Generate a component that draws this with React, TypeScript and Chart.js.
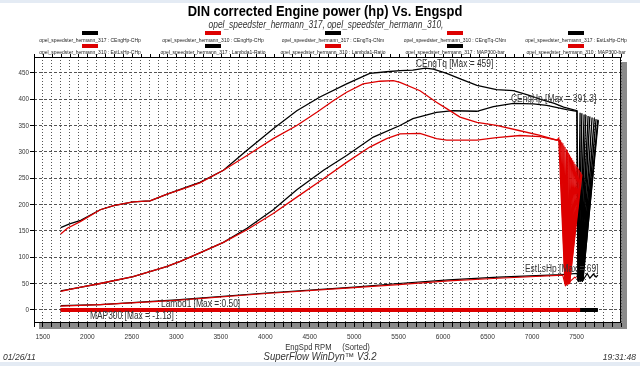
import React, { useEffect, useRef } from 'react';
import { Chart, registerables } from 'chart.js';

Chart.register(...registerables);

// ---------- tick labels ----------
const xTickLabels = ['1500', '2000', '2500', '3000', '3500', '4000', '4500', '5000', '5500', '6000', '6500', '7000', '7500'];
const yTickLabels = ['0', '50', '100', '150', '200', '250', '300', '350', '400', '450'];

// ---------- series (x = EngSpd rpm, y = value) ----------
// 317 CEngHp (black)
const hp317Rpm = [1700, 1900, 2145, 2515, 2890, 3045, 3265, 3530, 3795, 4090, 4355, 4655, 4915, 5215, 5515, 5660, 5925, 6115, 6380, 6565, 6790, 7015, 7165, 7390, 7505,
  7518, 7560, 7530, 7605, 7540, 7650, 7550, 7700, 7560, 7740, 7572];
const hp317Val = [36, 42, 50, 63, 82, 92, 108, 128, 155, 190, 228, 265, 293, 328, 350, 363, 375, 378, 377, 386, 392, 391, 388, 380, 377,
  54, 373, 56, 370, 53, 367, 55, 364, 54, 361, 55];
// 310 CEngHp (red)
const hp310Rpm = [1700, 1900, 2145, 2515, 2890, 3045, 3265, 3530, 3795, 4090, 4355, 4655, 4915, 5175, 5365, 5515, 5740, 5925, 6040, 6380, 6600, 6865, 7090, 7280,
  7310, 7372, 7333, 7380, 7357, 7386, 7382, 7392, 7407, 7398, 7432, 7404, 7457, 7409, 7482, 7413, 7507, 7416, 7532, 7419, 7552, 7421];
const hp310Val = [35, 42, 50, 63, 82, 92, 108, 128, 152, 183, 214, 249, 280, 309, 325, 334, 335, 325, 322, 322, 327, 331, 329, 322,
  322, 49, 318, 52, 312, 48, 305, 51, 298, 50, 291, 53, 284, 49, 277, 52, 271, 50, 265, 51, 259, 49];
// 317 CEngTq (black)
const tq317Rpm = [1700, 1800, 1925, 2145, 2295, 2515, 2705, 2890, 3115, 3265, 3530, 3795, 4090, 4355, 4615, 4915, 5175, 5365, 5515, 5660, 5800, 5890, 6040, 6200, 6380, 6600, 6790, 6950, 7090, 7250, 7355, 7505,
  7515, 7540, 7525, 7585, 7535, 7630, 7545, 7675, 7555, 7720, 7565, 7745, 7570];
const tq317Val = [156, 163, 170, 190, 198, 205, 207, 219, 233, 242, 265, 303, 344, 378, 404, 429, 449, 452, 454, 455, 459, 457, 449, 438, 426, 418, 416, 408, 400, 392, 385, 378,
  55, 374, 53, 371, 56, 368, 54, 365, 55, 362, 53, 360, 56];
// 310 CEngTq (red)
const tq310Rpm = [1700, 1775, 1925, 2145, 2295, 2515, 2705, 2890, 3115, 3265, 3530, 3795, 4090, 4355, 4580, 4765, 4915, 5100, 5290, 5440, 5515, 5740, 5925, 6040, 6190, 6380, 6600, 6865, 7090, 7280,
  7300, 7370, 7320, 7378, 7345, 7384, 7370, 7390, 7395, 7396, 7420, 7402, 7445, 7407, 7470, 7411, 7495, 7414, 7520, 7417, 7545, 7420, 7560, 7422];
const tq310Val = [144, 155, 168, 190, 198, 205, 207, 219, 232, 241, 265, 293, 325, 350, 375, 397, 413, 429, 434, 435, 432, 416, 394, 382, 366, 356, 350, 340, 331, 322,
  326, 50, 322, 48, 316, 52, 309, 47, 302, 51, 295, 49, 288, 53, 281, 48, 274, 52, 268, 50, 262, 49, 257, 51];
// 317 EstLsHp (black)
const est317Rpm = [1700, 2145, 3000, 4010, 5000, 5500, 6060, 6620, 7330, 7505, 7520, 7550, 7580, 7620, 7650, 7690, 7720, 7740];
const est317Val = [8, 10, 19, 32, 43, 50, 57, 62, 67, 69, 56, 68, 58, 69, 60, 68, 62, 66];
// 310 EstLsHp (red)
const est310Rpm = [1700, 2145, 3000, 4010, 5000, 5500, 6060, 6620, 7345, 7375, 7480, 7500];
const est310Val = [7, 10, 18, 31, 42, 48, 55, 60, 66, 46, 62, 60];
// 317 / 310 Lambda1
const lam317Rpm = [1700, 3000, 4500, 6000, 7505, 7740];
const lam317Val = [0.45, 0.47, 0.5, 0.48, 0.46, 0.45];
const lam310Rpm = [1700, 3000, 4500, 6000, 7540];
const lam310Val = [0.44, 0.46, 0.48, 0.47, 0.45];
// 317 / 310 MAP300
const map317Rpm = [1700, 3000, 4500, 6000, 7505, 7740];
const map317Val = [-1.2, -1.18, -1.15, -1.13, -1.16, -1.2];
const map310Rpm = [1700, 3000, 4500, 6000, 7540];
const map310Val = [-1.22, -1.19, -1.16, -1.14, -1.18];

// ---------- legend / annotation texts ----------
const legendLabels = [
  'opel_speedster_hermann_317 : CEngHp-CHp', 'opel_speedster_hermann_310 : CEngHp-CHp', 'opel_speedster_hermann_317 : CEngTq-CNm',
  'opel_speedster_hermann_310 : CEngTq-CNm', 'opel_speedster_hermann_317 : EstLsHp-CHp', 'opel_speedster_hermann_310 : EstLsHp-CHp',
  'opel_speedster_hermann_317 : Lambda1-Ratio', 'opel_speedster_hermann_310 : Lambda1-Ratio', 'opel_speedster_hermann_317 : MAP300-bar',
  'opel_speedster_hermann_310 : MAP300-bar',
];
const legendColors = ['#000000', '#dd0000', '#000000', '#dd0000', '#000000', '#dd0000', '#000000', '#dd0000', '#000000', '#dd0000'];

const RED = '#dd0000';
const BLACK = '#000000';

const pts = (xs: number[], ys: number[]) => xs.map((x, i) => ({ x, y: ys[i] }));

function drawText(ctx: CanvasRenderingContext2D, text: string, x: number, y: number, font: string, align: CanvasTextAlign, sx: number, color: string) {
  ctx.save();
  ctx.translate(x, y);
  ctx.scale(sx, 1);
  ctx.font = font;
  ctx.fillStyle = color;
  ctx.textAlign = align;
  ctx.textBaseline = 'middle';
  ctx.fillText(text, 0, 0);
  ctx.restore();
}

const FONT = "'Liberation Sans', Arial, sans-serif";

const decorPlugin = {
  id: 'decor',
  beforeDraw(chart: any) {
    const { ctx, chartArea: a, width, height } = chart;
    ctx.save();
    ctx.fillStyle = '#ffffff';
    ctx.fillRect(0, 0, width, height);
    ctx.fillStyle = '#e4ebf4';
    ctx.fillRect(0, 0, width, 3);
    ctx.fillRect(0, height - 4, width, 4);
    // drop shadow
    ctx.fillStyle = '#8a8a8a';
    ctx.fillRect(a.left + 5, a.top + 5, a.right - a.left + 1, a.bottom - a.top + 1);
    ctx.fillStyle = '#ffffff';
    ctx.fillRect(a.left, a.top, a.right - a.left, a.bottom - a.top);
    ctx.restore();
  },
  afterDraw(chart: any) {
    const { ctx, chartArea: a } = chart;
    const xs = chart.scales.x;
    const ys = chart.scales.y;
    ctx.save();
    // frame
    ctx.strokeStyle = '#000';
    ctx.lineWidth = 1;
    ctx.strokeRect(a.left + 0.5, a.top + 0.5, a.right - a.left - 1, a.bottom - a.top - 1);
    // top tick marks
    ctx.beginPath();
    xs.ticks.forEach((t: any) => {
      const px = Math.round(xs.getPixelForValue(t.value)) + 0.5;
      ctx.moveTo(px, a.top);
      ctx.lineTo(px, a.top - 3);
    });
    ctx.stroke();
    ctx.restore();

    // tick labels
    xTickLabels.forEach((l) => {
      drawText(ctx, l, xs.getPixelForValue(Number(l)), 337, `8px ${FONT}`, 'center', 0.82, '#333');
    });
    yTickLabels.forEach((l) => {
      drawText(ctx, l, 29, ys.getPixelForValue(Number(l)), `8px ${FONT}`, 'right', 0.78, '#333');
    });
    // axis title
    drawText(ctx, 'EngSpd RPM     (Sorted)', (a.left + a.right) / 2, 348, `9px ${FONT}`, 'center', 0.85, '#333');

    // titles
    drawText(ctx, 'DIN corrected Engine power (hp) Vs. Engspd', 325, 12, `bold 15px ${FONT}`, 'center', 0.86, '#000');
    drawText(ctx, 'opel_speedster_hermann_317, opel_speedster_hermann_310,', 326, 25, `italic 10px ${FONT}`, 'center', 0.84, '#333');

    // legend
    const cols = [90, 213, 333, 455, 576];
    legendLabels.forEach((lab, i) => {
      const row = Math.floor(i / 5);
      const col = i % 5;
      const cx = cols[col];
      const sy = row === 0 ? 31 : 44;
      ctx.fillStyle = legendColors[i];
      ctx.fillRect(cx - 8, sy, 16, 4);
      drawText(ctx, lab, cx, row === 0 ? 40 : 52, `5.5px ${FONT}`, 'center', 0.9, '#222');
    });

    // annotations inside plot
    const af = `10px ${FONT}`;
    drawText(ctx, 'CEngTq [Max = 459]', 416, 64, af, 'left', 0.84, '#333');
    drawText(ctx, 'CEngHp [Max = 391.3]', 511, 99, af, 'left', 0.84, '#333');
    drawText(ctx, 'EstLsHp [Max = 69]', 525, 269, af, 'left', 0.84, '#333');
    drawText(ctx, 'Lambd1 [Max = 0.50]', 161, 304, af, 'left', 0.84, '#333');
    drawText(ctx, 'MAP300 [Max = -1.13]', 90, 316, af, 'left', 0.84, '#333');

    // footer
    drawText(ctx, '01/26/11', 3, 357, `italic 9px ${FONT}`, 'left', 0.95, '#333');
    drawText(ctx, 'SuperFlow WinDyn\u2122 V3.2', 320, 357, `italic 10px ${FONT}`, 'center', 0.95, '#333');
    drawText(ctx, '19:31:48', 636, 357, `italic 9px ${FONT}`, 'right', 0.95, '#333');
  },
};

export default function App() {
  const ref = useRef<HTMLCanvasElement | null>(null);
  useEffect(() => {
    if (!ref.current) return;
    const ds = (label: string, xs: number[], ys: number[], color: string, w: number) => ({
      label,
      data: pts(xs, ys),
      borderColor: color,
      backgroundColor: color,
      borderWidth: w,
      pointRadius: 0,
      fill: false,
      tension: 0,
    });
    const chart = new Chart(ref.current, {
      type: 'line',
      data: {
        datasets: [
          ds('310 MAP300', map310Rpm, map310Val, RED, 3),
          ds('310 Lambda1', lam310Rpm, lam310Val, RED, 3),
          ds('310 EstLsHp', est310Rpm, est310Val, RED, 1.2),
          ds('310 CEngTq', tq310Rpm, tq310Val, RED, 1.3),
          ds('310 CEngHp', hp310Rpm, hp310Val, RED, 1.3),
          ds('317 MAP300', map317Rpm, map317Val, BLACK, 3),
          ds('317 Lambda1', lam317Rpm, lam317Val, BLACK, 3),
          ds('317 EstLsHp', est317Rpm, est317Val, BLACK, 1.2),
          ds('317 CEngTq', tq317Rpm, tq317Val, BLACK, 1.3),
          ds('317 CEngHp', hp317Rpm, hp317Val, BLACK, 1.3),
        ],
      },
      options: {
        responsive: false,
        animation: false,
        devicePixelRatio: 1,
        layout: { padding: { left: 0, right: 19, top: 57, bottom: 0 } },
        plugins: { legend: { display: false }, title: { display: false }, tooltip: { enabled: false } },
        scales: {
          x: {
            type: 'linear',
            min: 1400,
            max: 8000,
            ticks: { stepSize: 100, display: false, includeBounds: false, autoSkip: false },
            grid: { color: '#555', lineWidth: 1, drawTicks: true, tickLength: 4, tickColor: '#000' },
            border: { display: false, dash: [1, 2] },
            afterFit: (s: any) => { s.height = 43; },
          },
          y: {
            type: 'linear',
            min: -25,
            max: 480,
            ticks: { stepSize: 50, display: false, includeBounds: false },
            grid: { color: '#555', lineWidth: 1, drawTicks: true, tickLength: 4, tickColor: '#000' },
            border: { display: false, dash: [3, 2] },
            afterFit: (s: any) => { s.width = 34; },
          },
        },
      },
      plugins: [decorPlugin],
    } as any);
    return () => chart.destroy();
  }, []);
  return (
    <div style={{ position: 'fixed', left: 0, top: 0, width: 640, height: 366, background: '#fff' }}>
      <canvas ref={ref} width={640} height={366} style={{ display: 'block' }} />
    </div>
  );
}
